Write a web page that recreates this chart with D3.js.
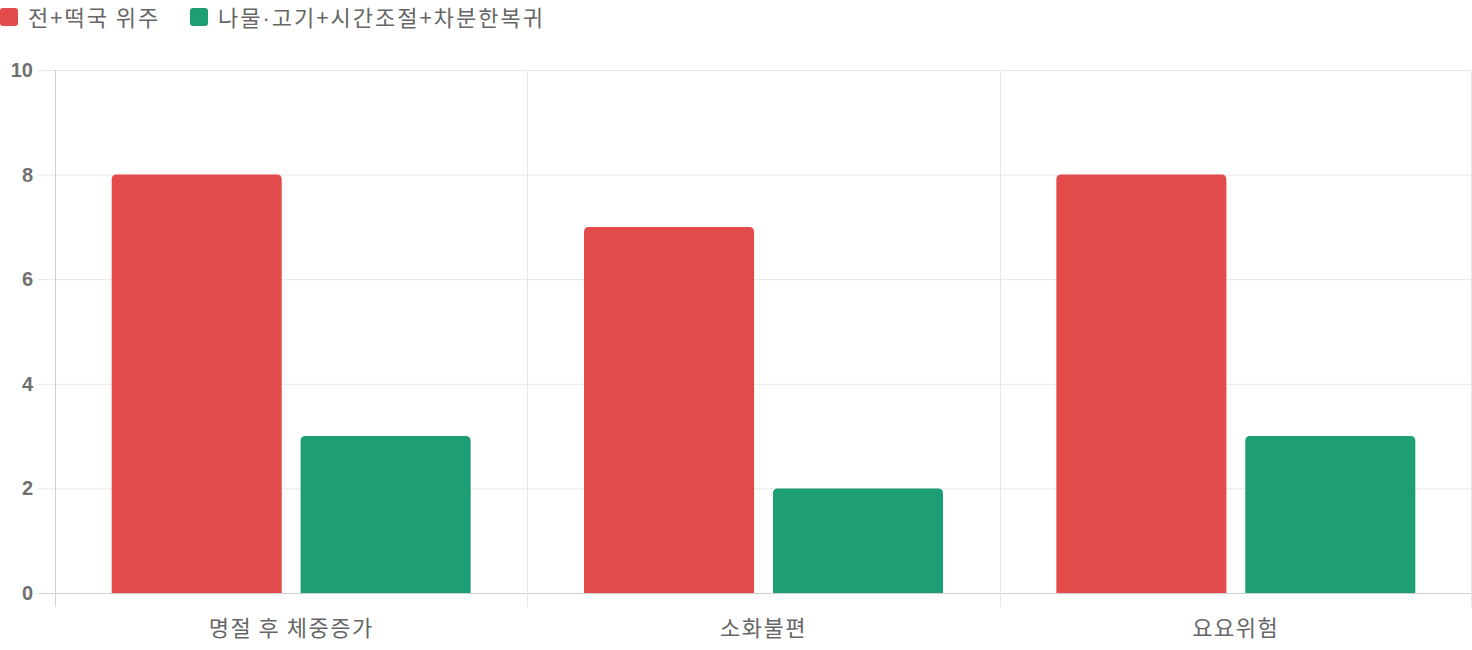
<!DOCTYPE html>
<html>
<head>
<meta charset="utf-8">
<script src="https://cdn.jsdelivr.net/npm/d3@7"></script>
<style>
  body { margin: 0; background: #fff; }
  svg { display: block; font-family: "Noto Sans CJK KR", "Noto Sans", sans-serif; }
</style>
</head>
<body>
<div id="chart"></div>
<script>
const categories = ["명절 후 체중증가", "소화불편", "요요위험"];
const seriesNames = ["전+떡국 위주", "나물·고기+시간조절+차분한복귀"];
const seriesColors = ["#E24B4A", "#1D9E75"];
const seriesA = [8, 7, 8];
const seriesB = [3, 2, 3];
const yTicks = [0, 2, 4, 6, 8, 10];

const width = 1472, height = 650;
const margin = {top: 70, right: 0, bottom: 57, left: 55};

const svg = d3.select("#chart").append("svg")
    .attr("width", width)
    .attr("height", height);

const rows = categories.map((c, i) => ({cat: c, values: [seriesA[i], seriesB[i]]}));

const x = d3.scaleBand()
    .domain(categories)
    .range([margin.left, width - margin.right])
    .paddingInner(0).paddingOuter(0);

const inner = d3.scaleBand()
    .domain(d3.range(seriesNames.length))
    .range([x.bandwidth() * 0.1, x.bandwidth() * 0.9])
    .paddingInner(0.1).paddingOuter(0.05);

const y = d3.scaleLinear()
    .domain([0, 10])
    .range([height - margin.bottom, margin.top]);

// grid
svg.append("g")
    .selectAll("line")
    .data(yTicks)
    .join("line")
    .attr("x1", margin.left - 17)
    .attr("x2", width - margin.right)
    .attr("y1", d => y(d) + 0.5)
    .attr("y2", d => y(d) + 0.5)
    .attr("stroke", d => d === 0 ? "#d0d0d0" : "#e6e6e6")
    .attr("stroke-width", 1);

const vLines = categories.map(c => x(c)).concat([width - margin.right - 1]);
svg.append("g")
    .selectAll("line")
    .data(vLines)
    .join("line")
    .attr("x1", d => Math.round(d) + 0.5)
    .attr("x2", d => Math.round(d) + 0.5)
    .attr("y1", margin.top)
    .attr("y2", height - margin.bottom + 14)
    .attr("stroke", (d, i) => i === 0 ? "#d0d0d0" : "#e6e6e6")
    .attr("stroke-width", 1);

// y labels
svg.append("g")
    .selectAll("text")
    .data(yTicks)
    .join("text")
    .attr("x", margin.left - 22)
    .attr("y", d => y(d))
    .attr("dy", "0.35em")
    .attr("text-anchor", "end")
    .attr("fill", "#707070")
    .attr("font-family", "'Liberation Sans', Arial, sans-serif")
    .attr("font-weight", "bold")
    .attr("font-size", 20)
    .text(d => d);

// x labels
svg.append("g")
    .selectAll("text")
    .data(categories)
    .join("text")
    .attr("x", d => x(d) + x.bandwidth() / 2)
    .attr("y", height - margin.bottom + 35)
    .attr("dy", "0.35em")
    .attr("text-anchor", "middle")
    .attr("fill", "#666")
    .attr("font-size", 22)
    .attr("letter-spacing", "1.5px")
    .text(d => d);

// bars with rounded tops
function barPath(x0, w, yTop, yBase, r) {
  r = Math.min(r, w / 2, yBase - yTop);
  return `M${x0},${yBase}V${yTop + r}Q${x0},${yTop} ${x0 + r},${yTop}H${x0 + w - r}Q${x0 + w},${yTop} ${x0 + w},${yTop + r}V${yBase}Z`;
}

const groups = svg.append("g")
    .selectAll("g")
    .data(rows)
    .join("g")
    .attr("transform", d => `translate(${x(d.cat)},0)`);

groups.selectAll("path")
    .data(d => d.values.map((v, k) => ({v, k})))
    .join("path")
    .attr("fill", d => seriesColors[d.k])
    .attr("d", d => barPath(inner(d.k), inner.bandwidth(), y(d.v), y(0), 5));

// legend
const legendX = [0, 190];
const legend = svg.append("g")
    .selectAll("g")
    .data(seriesNames)
    .join("g")
    .attr("transform", (d, i) => `translate(${legendX[i]},8)`);

legend.append("rect")
    .attr("width", 18)
    .attr("height", 18)
    .attr("rx", 3)
    .attr("fill", (d, i) => seriesColors[i]);

const legendText = legend.append("text")
    .attr("x", 28)
    .attr("y", 10)
    .attr("dy", "0.35em")
    .attr("fill", "#666")
    .attr("font-size", 22)
    .attr("letter-spacing", "2px");

// the CJK middle dot is full width; draw it in a latin font so it stays narrow
legendText.each(function(d) {
  const t = d3.select(this);
  d.split(/(·)/).forEach(part => {
    const span = t.append("tspan").text(part);
    if (part === "·") span.attr("font-family", "'Liberation Sans', Arial, sans-serif");
  });
});
</script>
</body>
</html>
